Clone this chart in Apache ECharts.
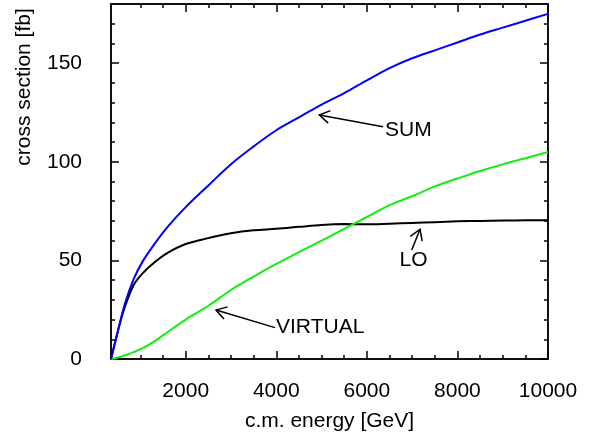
<!DOCTYPE html>
<html>
<head>
<meta charset="utf-8">
<script src="https://cdn.jsdelivr.net/npm/echarts@6/dist/echarts.min.js"></script>
<style>
html, body { margin: 0; padding: 0; background: #fff; }
#chart { width: 593px; height: 436px; }
</style>
</head>
<body>
<div id="chart"></div>
<script>
// c.m. energy [GeV]
var energies = [350, 500, 650, 850, 1050, 1300, 1600, 2000, 2500, 3000, 3500, 4000,
    4500, 5000, 5500, 6000, 6500, 7000, 7500, 8000, 8500, 9000, 9500, 10000];
// cross sections [fb]
var sumValues = [0, 14, 27.5, 40.5, 49.5, 58, 67, 77, 88, 98.8, 107.8, 116,
    122.5, 129, 134.8, 141.3, 147.5, 152.5, 156.5, 160.5, 164.5, 168, 171.5, 175];
var loValues = [0, 14, 26, 37.5, 43.5, 48.8, 53.8, 58.3, 61.3, 63.8, 65.3, 66,
    67, 68, 68.4, 68.3, 68.6, 69, 69.4, 69.8, 70, 70.2, 70.4, 70.3];
var virtualValues = [0, 0.8, 1.8, 3.5, 5.5, 8.8, 13.7, 20, 27, 35, 41.8, 48.2,
    54.2, 60, 66, 72, 78, 82.5, 87.5, 91.5, 95.3, 98.7, 101.8, 105];

var xLabelValues = [2000, 4000, 6000, 8000, 10000];
var xMinorTicks = [1000, 1500, 2500, 3000, 3500, 4500, 5000, 5500, 6500, 7000, 7500, 8500, 9000, 9500];
var yLabelValues = [0, 50, 100, 150];
var yMinorTicks = [10, 20, 30, 40, 60, 70, 80, 90, 110, 120, 130, 140, 160, 170];

// arrow annotations, in data coordinates
var noteLabels = ['SUM', 'LO', 'VIRTUAL'];
var noteTips = [[4950, 123.7], [7174, 65.8], [2669, 24.8]];
var noteTails = [[6357, 117.8], [6991, 55.3], [3972, 15.9]];
var noteText = [[6401, 116.1], [7031, 50.2], [3994, 16.2]];
var noteAlign = ['left', 'center', 'left'];

var FONT = 'Liberation Sans, Arial, Helvetica, sans-serif';

var dom = document.getElementById('chart');
var myChart = echarts.init(dom, null, { renderer: 'canvas' });

function pairs(vals) {
    return energies.map(function (e, i) { return [e, vals[i]]; });
}

function axisDef(kind, pos, ticks, len, labels) {
    var a = {
        type: 'value',
        position: pos,
        min: kind === 'x' ? 350 : 0,
        max: kind === 'x' ? 10000 : 180,
        axisLine: { show: true, onZero: false, lineStyle: { color: '#000', width: 1.5 } },
        axisTick: { show: true, inside: true, length: len, customValues: ticks,
            lineStyle: { color: '#000', width: 1.5 } },
        splitLine: { show: false },
        axisLabel: { show: false }
    };
    if (labels) {
        a.axisLabel = {
            show: true,
            customValues: labels,
            color: '#000',
            fontFamily: FONT,
            fontSize: 21,
            margin: kind === 'x' ? 22 : 29,
            formatter: function (v) { return String(v); }
        };
    }
    return a;
}

function lineSeries(name, vals, color) {
    return {
        name: name,
        type: 'line',
        xAxisIndex: 0,
        yAxisIndex: 0,
        data: pairs(vals),
        showSymbol: false,
        smooth: 0.35,
        lineStyle: { color: color, width: 2 },
        itemStyle: { color: color }
    };
}

var option = {
    animation: false,
    backgroundColor: '#fff',
    grid: { left: 111, right: 45, top: 4, bottom: 77, containLabel: false, outerBoundsMode: 'none' },
    xAxis: [
        axisDef('x', 'bottom', xLabelValues, 8, xLabelValues),
        axisDef('x', 'bottom', xMinorTicks, 4, null),
        axisDef('x', 'top', xLabelValues, 8, null),
        axisDef('x', 'top', xMinorTicks, 4, null)
    ],
    yAxis: [
        axisDef('y', 'left', yLabelValues, 8, yLabelValues),
        axisDef('y', 'left', yMinorTicks, 4, null),
        axisDef('y', 'right', yLabelValues, 8, null),
        axisDef('y', 'right', yMinorTicks, 4, null)
    ],
    series: [
        lineSeries('LO', loValues, '#000000'),
        lineSeries('VIRTUAL', virtualValues, '#11ee11'),
        lineSeries('SUM', sumValues, '#0000ff')
    ]
};
option.xAxis[0].name = 'c.m. energy [GeV]';
option.xAxis[0].nameLocation = 'middle';
option.xAxis[0].nameGap = 52;
option.xAxis[0].nameTextStyle = { color: '#000', fontFamily: FONT, fontSize: 21 };

myChart.setOption(option);

// arrows + labels
var graphics = [{
    type: 'text',
    x: 24, y: 87,
    rotation: Math.PI / 2,
    style: { text: 'cross section [fb]', fill: '#000', font: '21px ' + FONT,
        textAlign: 'center', textVerticalAlign: 'middle' }
}];
var finder = { xAxisIndex: 0, yAxisIndex: 0 };
noteLabels.forEach(function (label, i) {
    var tip = myChart.convertToPixel(finder, noteTips[i]);
    var tail = myChart.convertToPixel(finder, noteTails[i]);
    var txt = myChart.convertToPixel(finder, noteText[i]);
    var ang = Math.atan2(tail[1] - tip[1], tail[0] - tip[0]);
    var hl = 12, ha = 32 * Math.PI / 180;
    var h1 = [tip[0] + hl * Math.cos(ang - ha), tip[1] + hl * Math.sin(ang - ha)];
    var h2 = [tip[0] + hl * Math.cos(ang + ha), tip[1] + hl * Math.sin(ang + ha)];
    graphics.push({
        type: 'polyline',
        shape: { points: [tail, tip] },
        style: { stroke: '#000', lineWidth: 1.5, fill: null }
    });
    graphics.push({
        type: 'polyline',
        shape: { points: [h1, tip, h2] },
        style: { stroke: '#000', lineWidth: 1.5, fill: null }
    });
    graphics.push({
        type: 'text',
        x: txt[0], y: txt[1],
        style: { text: label, fill: '#000', font: '21px ' + FONT,
            textAlign: noteAlign[i], textVerticalAlign: 'middle' }
    });
});
myChart.setOption({ graphic: graphics });

window.addEventListener('resize', myChart.resize);
</script>
</body>
</html>
